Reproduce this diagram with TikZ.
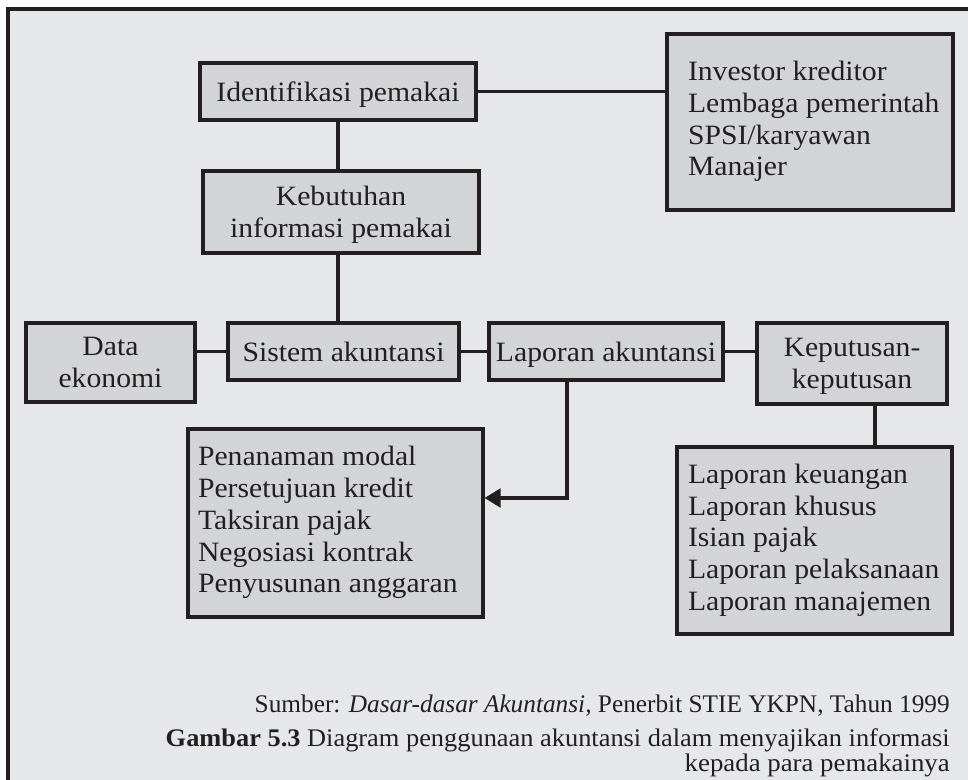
\documentclass[tikz,border=0pt]{standalone}
\usepackage{fontspec}
\setmainfont{Liberation Serif}
\newfontfamily\diagfont[FakeStretch=1.06]{Liberation Serif}
\usepackage{graphicx}
\usetikzlibrary{arrows.meta,calc}
\definecolor{bg}{HTML}{E6E7E9}
\definecolor{boxfill}{HTML}{D3D4D6}
\definecolor{ink}{HTML}{231F20}
\newcommand{\linelist}[2]{\makebox[#1][l]{\begin{tabular}{@{}l@{}}#2\end{tabular}}}
\begin{document}
\begin{tikzpicture}[x=0.75pt,y=-0.75pt,
  every node/.style={font=\diagfont\fontsize{21}{23.8}\selectfont, text=ink},
  boxbase/.style={draw=ink, fill=boxfill, line width=2.3pt, inner sep=0pt},
  box/.style={boxbase, align=center, text depth=0pt},
  listbox/.style={boxbase},
  conn/.style={draw=ink, line width=2.3pt},
  captext/.style={anchor=base east, inner sep=0pt, font=\rmfamily\fontsize{19}{22}\selectfont}]
\useasboundingbox (0,0) rectangle (968,780);
\fill[bg] (8,9) rectangle (990,800);
\draw[ink, line width=2.3pt] (8,800) -- (8,9) -- (990,9);

\node[box, minimum width=207pt, minimum height=42.75pt] (idp) at (338,91.5) {Identifikasi pemakai};
\node[box, minimum width=207pt, minimum height=61.5pt] (keb) at (341,212) {Kebutuhan\\informasi pemakai};
\node[listbox, inner xsep=15.75pt, minimum height=132pt] (inv) at (810,122) {\linelist{183pt}{Investor kreditor\\Lembaga pemerintah\\SPSI/karyawan\\Manajer}};
\node[box, minimum width=126.75pt, minimum height=59.25pt] (data) at (110.5,362.5) {Data\\ekonomi};
\node[box, minimum width=173.25pt, minimum height=42.75pt] (sis) at (343.5,351.5) {Sistem akuntansi};
\node[box, minimum width=175.5pt, minimum height=42.75pt] (lap) at (606,351.5) {Laporan akuntansi};
\node[box, minimum width=142.5pt, minimum height=60.75pt] (kep) at (852,363.5) {Keputusan-\\keputusan};
\node[listbox, inner xsep=7.5pt, minimum height=141pt] (pen) at (335.5,523) {\linelist{206.25pt}{Penanaman modal\\Persetujuan kredit\\Taksiran pajak\\Negosiasi kontrak\\Penyusunan anggaran}};
\node[listbox, inner xsep=8.25pt, minimum height=140.25pt] (lk) at (814.5,540.5) {\linelist{189.75pt}{Laporan keuangan\\Laporan khusus\\Isian pajak\\Laporan pelaksanaan\\Laporan manajemen}};

\coordinate (bend) at (567,498);
\coordinate (kx) at (875,420);

\draw[conn] (idp.south) -- (idp.south |- keb.north);
\draw[conn] (idp.south |- keb.south) -- (idp.south |- sis.north);
\draw[conn] (idp.east) -- (idp.east -| inv.west);
\draw[conn] (data.east |- sis.west) -- (sis.west);
\draw[conn] (sis.east) -- (lap.west);
\draw[conn] (lap.east) -- (lap.east -| kep.west);
\draw[conn, -{Triangle[length=12pt,width=14pt]}] (lap.south -| bend) -- (bend) -- (bend -| pen.east);
\draw[conn] (kep.south -| kx) -- (kx |- lk.north);

\node[captext] (cap1) at (950,712) {\resizebox{521.25pt}{\height}{Sumber: \textit{Dasar-dasar Akuntansi,} Penerbit STIE YKPN, Tahun 1999}};
\node[captext] (cap2) at (950,746) {\resizebox{588pt}{\height}{\textbf{Gambar 5.3} Diagram penggunaan akuntansi dalam menyajikan informasi}};
\node[captext] (cap3) at (950,771) {\resizebox{198.75pt}{\height}{kepada para pemakainya}};
\end{tikzpicture}
\end{document}
